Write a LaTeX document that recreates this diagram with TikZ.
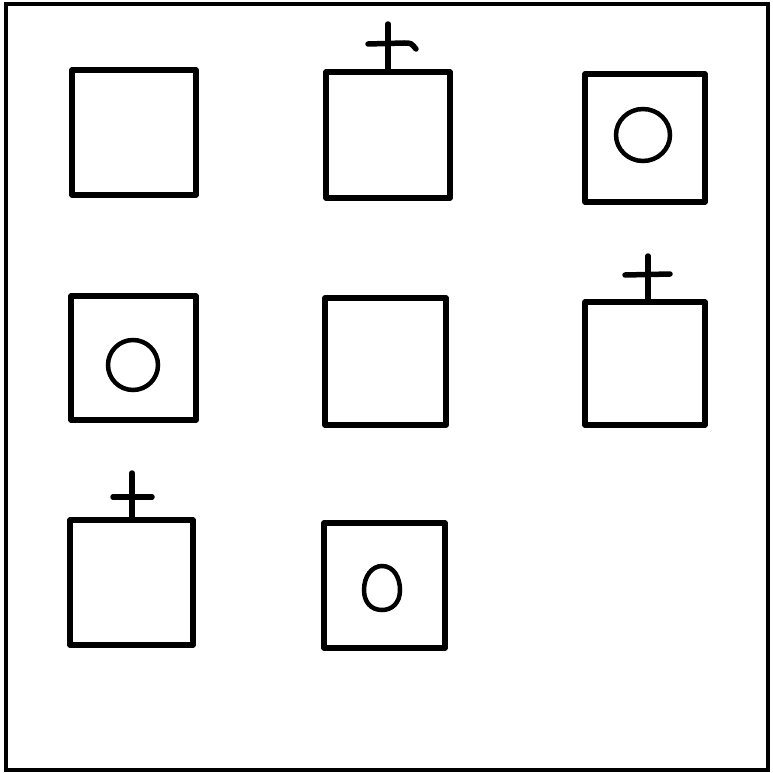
\documentclass[tikz,border=0pt]{standalone}
\begin{document}
\begin{tikzpicture}[x=1pt,y=-1pt,
  frame/.style={line width=3.5pt},
  box/.style={line width=5.5pt,line cap=round,line join=round},
  crossline/.style={line width=5.5pt,line cap=round},
  ring/.style={line width=4.5pt}]
\useasboundingbox (0,0) rectangle (772,773);
% outer frame
\draw[frame] (6,4) rectangle (768,770);
% row 1
\draw[box] (72,70) rectangle (196,195);
\draw[box] (326,72) rectangle (450,198);
\draw[crossline] (388,24) -- (388,72);
\draw[crossline] (368,44) -- (404,43) .. controls (411,43) .. (416,49);
\draw[box] (585,74) rectangle (705,202);
\draw[ring] (643,135) ellipse (27 and 26);
% row 2
\draw[box] (71,296) rectangle (196,420);
\draw[ring] (133,365) circle (25);
\draw[box] (325,298) rectangle (446,425);
\draw[box] (585,302) rectangle (705,425);
\draw[crossline] (648,256) -- (648,302);
\draw[crossline] (625,275) -- (670,274);
% row 3
\draw[box] (70,520) rectangle (193,645);
\draw[crossline] (132,473) -- (132,520);
\draw[crossline] (113,497) -- (152,497);
\draw[box] (324,523) rectangle (445,648);
\draw[ring] (382,566) .. controls (394,566) and (400,578) .. (400,590)
  .. controls (400,603) and (392,610) .. (382,610)
  .. controls (371,610) and (364,602) .. (364,590)
  .. controls (364,576) and (372,566) .. (382,566) -- cycle;
\end{tikzpicture}
\end{document}
